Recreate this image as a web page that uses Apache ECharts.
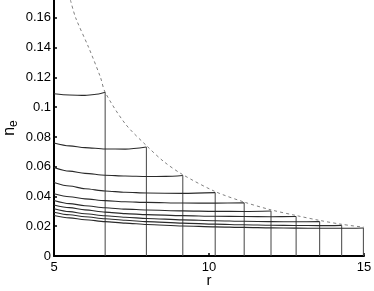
<!DOCTYPE html>
<html>
<head>
<meta charset="utf-8">
<script src="https://cdn.jsdelivr.net/npm/echarts@6/dist/echarts.min.js"></script>
<style>html,body{margin:0;padding:0;background:#fff}#c{width:374px;height:291px}</style>
</head>
<body>
<div id="c"></div>
<script>
// x ticks and y ticks
const xTicks = [5, 10, 15];
const yTicks = [0, 0.02, 0.04, 0.06, 0.08, 0.1, 0.12, 0.14, 0.16];

// solid profiles n_e(r): [r, n_e]
const curve1 = [[5,0.1090],[5.5,0.1082],[6,0.1079],[6.3,0.1085],[6.65,0.1100]];
const curve2 = [[5,0.0759],[5.5,0.0740],[6,0.0728],[6.65,0.0719],[7.3,0.0718],[7.98,0.0732]];
const curve3 = [[5,0.0595],[5.5,0.0570],[6,0.0555],[6.65,0.0543],[7.3,0.0537],[8,0.0534],[8.6,0.0535],[9.155,0.0541]];
const curve4 = [[5,0.0494],[5.5,0.0470],[6,0.0452],[6.65,0.0437],[7.3,0.0428],[8,0.0423],[9.15,0.0421],[10.2,0.0426]];
const curve5 = [[5,0.0418],[5.5,0.0398],[6,0.0384],[6.65,0.0372],[7.3,0.0364],[8,0.0360],[9.15,0.0356],[10.2,0.0355],[11.135,0.0357]];
const curve6 = [[5,0.0373],[5.5,0.0352],[6,0.0338],[6.65,0.0324],[7.3,0.0315],[8,0.0309],[9.15,0.0303],[10.2,0.0300],[11.135,0.0299],[12.0,0.0302]];
const curve7 = [[5,0.0343],[5.5,0.0325],[6,0.0310],[6.65,0.0295],[7.3,0.0285],[8,0.0278],[9.15,0.0271],[10.2,0.0267],[11.135,0.0265],[12,0.0264],[12.81,0.0265]];
const curve8 = [[5,0.0317],[5.5,0.0298],[6,0.0284],[6.65,0.0270],[7.3,0.0260],[8,0.0252],[9.15,0.0243],[10.2,0.0237],[11.135,0.0233],[12,0.0231],[12.81,0.0230],[13.57,0.0231]];
const curve9 = [[5,0.0294],[5.5,0.0277],[6,0.0264],[6.65,0.0250],[7.3,0.0240],[8,0.0231],[9.15,0.0221],[10.2,0.0214],[11.135,0.0210],[12,0.0207],[12.81,0.0205],[13.57,0.0204],[14.28,0.0206]];
const curve10 = [[5,0.0272],[5.5,0.0256],[6,0.0244],[6.65,0.0231],[7.3,0.0221],[8,0.0212],[9.15,0.0202],[10.2,0.0196],[11.135,0.0192],[12,0.0189],[12.81,0.0187],[13.57,0.0186],[14.28,0.0186],[14.98,0.0188]];

// dashed envelope
const envelope = [[5.53,0.172],[5.7,0.160],[6.12,0.140],[6.5,0.120],[6.65,0.1100],[7.3,0.0888],[8,0.0738],[8.55,0.0633],[9.15,0.0547],[10.2,0.0433],[11.14,0.0362],[12,0.0310],[12.81,0.0272],[13.57,0.0239],[14.28,0.0213],[15,0.0193]];

const curves = [curve1, curve2, curve3, curve4, curve5, curve6, curve7, curve8, curve9, curve10];

const series = [];
curves.forEach(function (c) {
  series.push({
    type: 'line', data: c, symbol: 'none', smooth: 0.3, smoothMonotone: 'x',
    lineStyle: { color: '#2a2a2a', width: 1.1 }, silent: true, animation: false
  });
  const last = c[c.length - 1];
  series.push({
    type: 'line', data: [[last[0], 0], last], symbol: 'none',
    lineStyle: { color: '#444', width: 1 }, silent: true, animation: false
  });
});
series.push({
  type: 'line', data: envelope, symbol: 'none', smooth: 0.3,
  lineStyle: { color: '#808080', width: 1, type: [3, 3] }, silent: true, animation: false
});

const chart = echarts.init(document.getElementById('c'), null, { renderer: 'canvas' });
chart.setOption({
  animation: false,
  backgroundColor: '#fff',
  grid: { left: 54, right: 10, top: 0, bottom: 35, containLabel: false, outerBoundsMode: 'none' },
  xAxis: {
    type: 'value', min: xTicks[0], max: xTicks[xTicks.length - 1], interval: 5,
    name: 'r', nameLocation: 'middle', nameGap: 17, nameMoveOverlap: false,
    nameTextStyle: { fontFamily: 'Liberation Sans', fontSize: 15, color: '#000' },
    axisLine: { lineStyle: { color: '#000', width: 2 } },
    axisTick: { inside: true, length: 3, lineStyle: { color: '#000', width: 1.5 } },
    axisLabel: { fontFamily: 'Liberation Sans', fontSize: 13, color: '#000', margin: 5 },
    splitLine: { show: false }
  },
  yAxis: {
    type: 'value', min: 0, max: 0.172, interval: 0.02,
    name: '{n|n}{e|e}', nameLocation: 'middle', nameGap: 34, nameRotate: 90, nameMoveOverlap: false,
    nameTextStyle: {
      rich: {
        n: { fontFamily: 'Liberation Sans', fontSize: 16, color: '#000' },
        e: { fontFamily: 'Liberation Sans', fontSize: 12, color: '#000', padding: [8, 0, 0, 0] }
      }
    },
    axisLine: { show: true, lineStyle: { color: '#000', width: 2 } },
    axisTick: { show: true, inside: true, length: 3, lineStyle: { color: '#000', width: 1.5 } },
    axisLabel: {
      fontFamily: 'Liberation Sans', fontSize: 13, color: '#000', margin: 3, showMaxLabel: false,
      formatter: function (v) { return yTicks.indexOf(Math.round(v * 100) / 100) >= 0 ? String(Math.round(v * 100) / 100) : ''; }
    },
    splitLine: { show: false }
  },
  series: series
});
</script>
</body>
</html>
